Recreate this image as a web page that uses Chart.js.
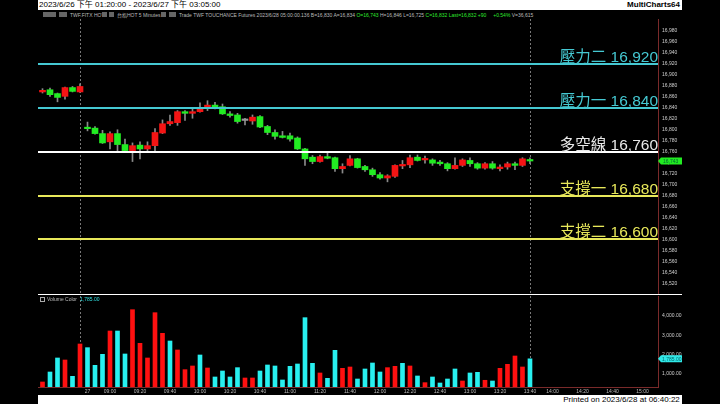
<!DOCTYPE html>
<html>
<head>
<meta charset="utf-8">
<script src="https://cdn.jsdelivr.net/npm/chart.js@4.4.1/dist/chart.umd.min.js"></script>
<style>
  body { margin: 0; width: 720px; height: 404px; background: #000; position: relative; overflow: hidden;
         font-family: "Liberation Sans", "Noto Sans CJK TC", sans-serif; }
  canvas { position: absolute; left: 0; }
  #priceCanvas { top: 19px; }
  #volCanvas { top: 295px; }
  .whitebar { position: absolute; left: 38px; width: 644px; background: #fff; color: #000; font-size: 8px; white-space: nowrap; }
  #topbar { top: 0; height: 10px; line-height: 10px; }
  #topbar .right { position: absolute; right: 2px; top: 0; font-weight: bold; }
  #topbar .left { position: absolute; left: 1px; top: 0; }
  #bottombar { top: 395px; height: 9px; line-height: 9px; text-align: right; }
  #sep { position: absolute; left: 38px; top: 294px; width: 644px; height: 1px; background: #fff; }
  .tb { position: absolute; top: 12px; font-size: 5px; line-height: 6px; color: #bbb; white-space: nowrap; }
  .icon { position: absolute; top: 12px; height: 5px; background: #666; }
  .g { color: #2ee82e; }
  .c { color: #30e0e0; }
</style>
</head>
<body>
<div id="topbar" class="whitebar"><span class="left">2023/6/26 下午 01:20:00 - 2023/6/27 下午 03:05:00</span><span class="right">MultiCharts64</span></div>

<div class="icon" style="left:43px;width:13px"></div>
<div class="icon" style="left:59px;width:8px"></div>
<div class="tb" style="left:70px">TWF.FITX HOT</div>
<div class="icon" style="left:102px;width:5px"></div>
<div class="icon" style="left:109px;width:5px"></div>
<div class="tb" style="left:117px">台指HOT 5 Minutes</div>
<div class="icon" style="left:161px;width:5px"></div>
<div class="icon" style="left:169px;width:7px"></div>
<div class="tb" style="left:179px">Trade TWF TOUCHANCE Futures 2023/6/28 05:00:00.136 B=16,830 A=16,834 <span class="g">O=16,743</span> H=16,846 L=16,725 <span class="g">C=16,832 Last=16,832 +90</span> &nbsp; &nbsp; <span class="g">+0.54%</span> V=36,615</div>

<canvas id="priceCanvas" width="720" height="276"></canvas>
<canvas id="volCanvas" width="720" height="100"></canvas>
<div id="sep"></div>

<div class="tb" style="left:40px;top:297px;width:3px;height:3px;border:1px solid #aaa;"></div>
<div class="tb" style="left:47px;top:296px">Volume Color</div>
<div class="tb c" style="left:80px;top:296px">1,785.00</div>

<div id="bottombar" class="whitebar">Printed on 2023/6/28 at 06:40:22&nbsp;</div>

<script>
// 5 minute bars: 6/26 13:20-13:45, then 6/27 08:45-13:40
const opens  = [16869,16873,16866,16861,16877,16869,16804,16803,16793,16778,16793,16773,16762,16772,16765,16771,16794,16811,16813,16833,16830,16833,16841,16845,16842,16829,16827,16817,16816,16824,16806,16795,16789,16789,16785,16765,16750,16742,16751,16749,16729,16735,16747,16733,16727,16718,16712,16715,16734,16736,16750,16745,16745,16741,16738,16729,16735,16744,16738,16730,16738,16729,16732,16738,16735,16745];
const highs  = [16875,16876,16867,16878,16879,16884,16814,16806,16799,16796,16800,16783,16776,16778,16778,16802,16818,16827,16835,16835,16838,16849,16853,16850,16847,16833,16830,16821,16827,16826,16808,16800,16797,16794,16787,16766,16753,16754,16758,16750,16738,16753,16748,16735,16730,16722,16718,16736,16744,16754,16754,16752,16747,16744,16740,16749,16747,16749,16740,16740,16742,16736,16741,16741,16749,16749];
const lows   = [16867,16861,16851,16856,16869,16868,16798,16792,16775,16765,16761,16761,16742,16747,16761,16762,16793,16808,16808,16817,16821,16832,16835,16838,16828,16823,16812,16809,16810,16804,16791,16783,16785,16779,16764,16735,16738,16741,16747,16724,16721,16734,16730,16724,16715,16710,16705,16713,16729,16731,16743,16739,16735,16735,16725,16728,16733,16733,16728,16728,16728,16725,16728,16727,16733,16738];
const closes = [16872,16864,16859,16877,16870,16879,16802,16793,16776,16793,16773,16762,16771,16765,16771,16795,16811,16815,16833,16830,16833,16838,16845,16842,16829,16826,16815,16817,16823,16805,16795,16788,16786,16783,16765,16747,16742,16751,16748,16729,16733,16747,16731,16727,16718,16712,16716,16735,16736,16749,16744,16747,16739,16738,16729,16735,16745,16738,16730,16738,16730,16732,16738,16735,16747,16743];
const volumes = [586,1103,1828,1724,880,2552,2362,1448,2017,3224,3224,2035,4327,2587,1828,4172,3104,2707,2242,1224,1414,1983,1310,845,1155,845,1328,793,793,1155,1466,1414,690,1397,1517,3914,1552,1052,776,2224,1293,1362,741,1259,1569,1103,1328,1397,1552,1414,897,552,845,534,741,1259,638,1052,1086,674,638,1293,1500,1931,1362,1785];
// 1 = red volume bar, 0 = cyan
const volumeUp = [1,0,0,1,0,1,0,0,0,1,0,0,1,1,1,1,1,0,1,1,1,0,1,0,0,0,0,1,1,0,0,0,0,0,0,0,0,1,0,0,1,1,0,0,0,0,1,1,0,1,0,1,0,0,0,0,1,0,0,1,0,1,1,1,1,0];

const levelNames  = ["壓力二", "壓力一", "多空線", "支撐一", "支撐二"];
const levelValues = [16920, 16840, 16760, 16680, 16600];
const levelColors = ["#45c8d2", "#45c8d2", "#ffffff", "#e8e85a", "#e8e85a"];

const priceTicks = [16520,16540,16560,16580,16600,16620,16640,16660,16680,16700,16720,16740,16760,16780,16800,16820,16840,16860,16880,16900,16920,16940,16960,16980];
const volumeTicks = [1000, 2000, 3000, 4000];
const timeTickIdx    = [6, 9, 13, 17, 21, 25, 29, 33, 37, 41, 45, 49, 53, 57, 61, 65, 68, 72, 76, 80];
const timeTickLabels = ["27","09:00","09:20","09:40","10:00","10:20","10:40","11:00","11:20","11:40","12:00","12:20","12:40","13:00","13:20","13:40","14:00","14:20","14:40","15:00"];
const sessionLines = [5, 65];

const RED = "#f41414", GREEN = "#22ec22", AXIS = "#7a2a2a";
const fmt = (v, d) => v.toLocaleString("en-US", { minimumFractionDigits: d, maximumFractionDigits: d });

// keep the plot area exactly where the layout puts it
function noPad(s) {
  s.paddingTop = 0; s.paddingBottom = 0; s.paddingLeft = 0; s.paddingRight = 0;
}

const dashPlugin = {
  id: "dash",
  beforeDatasetsDraw(chart) {
    const { ctx, chartArea, scales: { x } } = chart;
    ctx.save();
    ctx.strokeStyle = "#777";
    ctx.lineWidth = 1;
    ctx.setLineDash([2, 2]);
    sessionLines.forEach(i => {
      const px = Math.round(x.getPixelForValue(i)) + 0.5;
      ctx.beginPath();
      ctx.moveTo(px, chartArea.top);
      ctx.lineTo(px, chartArea.bottom);
      ctx.stroke();
    });
    ctx.restore();
  }
};

const levelPlugin = {
  id: "levels",
  afterDatasetsDraw(chart) {
    const { ctx, chartArea, scales: { y } } = chart;
    ctx.save();
    levelValues.forEach((v, k) => {
      const py = Math.round(y.getPixelForValue(v));
      ctx.strokeStyle = levelColors[k];
      ctx.lineWidth = 2;
      ctx.beginPath();
      ctx.moveTo(chartArea.left, py);
      ctx.lineTo(chartArea.right, py);
      ctx.stroke();
      ctx.fillStyle = levelColors[k] === "#ffffff" ? "#e8e8e8" : levelColors[k];
      ctx.font = '15.5px "Liberation Sans", "Noto Sans CJK TC"';
      ctx.textAlign = "right";
      ctx.textBaseline = "alphabetic";
      ctx.fillText(levelNames[k] + " " + fmt(v, 0), chartArea.right, py - 2.5);
    });
    ctx.restore();
  },
  afterDraw(chart) {
    const { ctx, chartArea, scales: { y } } = chart;
    const last = closes[closes.length - 1];
    const py = y.getPixelForValue(last);
    const x0 = chartArea.right;
    ctx.save();
    ctx.fillStyle = GREEN;
    ctx.beginPath();
    ctx.moveTo(x0, py);
    ctx.lineTo(x0 + 3, py - 3.5);
    ctx.lineTo(x0 + 24, py - 3.5);
    ctx.lineTo(x0 + 24, py + 3.5);
    ctx.lineTo(x0 + 3, py + 3.5);
    ctx.closePath();
    ctx.fill();
    ctx.fillStyle = "#063";
    ctx.font = '5px "Liberation Sans"';
    ctx.textBaseline = "middle";
    ctx.fillText(fmt(last, 0), x0 + 5, py + 0.5);
    ctx.restore();
  }
};

const volMarker = {
  id: "volMarker",
  afterDraw(chart) {
    const { ctx, chartArea, scales: { y } } = chart;
    const last = volumes[volumes.length - 1];
    const py = y.getPixelForValue(last);
    const x0 = chartArea.right;
    ctx.save();
    ctx.fillStyle = "#30e8e8";
    ctx.beginPath();
    ctx.moveTo(x0, py);
    ctx.lineTo(x0 + 3, py - 3.5);
    ctx.lineTo(x0 + 24, py - 3.5);
    ctx.lineTo(x0 + 24, py + 3.5);
    ctx.lineTo(x0 + 3, py + 3.5);
    ctx.closePath();
    ctx.fill();
    ctx.fillStyle = "#066";
    ctx.font = '5px "Liberation Sans"';
    ctx.textBaseline = "middle";
    ctx.fillText(fmt(last, 2), x0 + 4, py + 0.5);
    ctx.restore();
  }
};

const xRange = { type: "linear", min: -0.6, max: 82.07, offset: false };
const noGrid = { display: false, drawTicks: false };

const bodyColors = opens.map((o, i) => closes[i] > o ? RED : closes[i] < o ? GREEN : "#999");

new Chart(document.getElementById("priceCanvas"), {
  type: "bar",
  data: {
    datasets: [
      {
        label: "body",
        order: 0,
        data: opens.map((o, i) => ({ x: i, y: [Math.min(o, closes[i]), Math.max(o, closes[i])] })),
        backgroundColor: bodyColors,
        barThickness: 6,
        minBarLength: 1.5,
        grouped: false,
        clip: 0
      },
      {
        label: "wick",
        order: 1,
        data: highs.map((h, i) => ({ x: i, y: [lows[i], h] })),
        backgroundColor: "#8a8a8a",
        barThickness: 1,
        grouped: false,
        clip: 0
      }
    ]
  },
  options: {
    responsive: false,
    devicePixelRatio: 1,
    animation: false,
    events: [],
    layout: { autoPadding: false, padding: { left: 38, right: 0, top: 0, bottom: 0 } },
    plugins: { legend: { display: false }, tooltip: { enabled: false } },
    scales: {
      x: { ...xRange, display: false },
      y: {
        type: "linear",
        position: "right",
        min: 16498.5,
        max: 17002.1,
        afterBuildTicks: s => { s.ticks = priceTicks.map(v => ({ value: v })); },
        afterFit: s => { s.width = 62; noPad(s); },
        grid: noGrid,
        border: { display: true, color: AXIS, width: 1 },
        ticks: {
          color: "#cfcfcf",
          padding: 4,
          font: { family: "Liberation Sans", size: 5 },
          callback: v => fmt(v, 0)
        }
      }
    }
  },
  plugins: [dashPlugin, levelPlugin]
});

new Chart(document.getElementById("volCanvas"), {
  type: "bar",
  data: {
    datasets: [{
      label: "Volume",
      data: volumes.map((v, i) => ({ x: i, y: v })),
      backgroundColor: volumeUp.map(u => u ? "#ff1010" : "#28f0f0"),
      barThickness: 4,
      grouped: false,
      clip: 0
    }]
  },
  options: {
    responsive: false,
    devicePixelRatio: 1,
    animation: false,
    events: [],
    layout: { autoPadding: false, padding: { left: 38, right: 0, top: 1, bottom: 0 } },
    plugins: { legend: { display: false }, tooltip: { enabled: false } },
    scales: {
      x: {
        ...xRange,
        position: "bottom",
        afterBuildTicks: s => { s.ticks = timeTickIdx.map(v => ({ value: v })); },
        afterFit: s => { s.height = 8; noPad(s); },
        grid: noGrid,
        border: { display: true, color: AXIS, width: 1 },
        ticks: {
          autoSkip: false,
          maxRotation: 0,
          color: "#bbbbbb",
          padding: 2,
          font: { family: "Liberation Sans", size: 5 },
          callback: (v, idx) => timeTickLabels[idx]
        }
      },
      y: {
        type: "linear",
        position: "right",
        min: 327,
        max: 5035,
        afterBuildTicks: s => { s.ticks = volumeTicks.map(v => ({ value: v })); },
        afterFit: s => { s.width = 62; noPad(s); },
        grid: noGrid,
        border: { display: true, color: AXIS, width: 1 },
        ticks: {
          color: "#cfcfcf",
          padding: 4,
          font: { family: "Liberation Sans", size: 5 },
          callback: v => fmt(v, 2)
        }
      }
    }
  },
  plugins: [dashPlugin, volMarker]
});
</script>
</body>
</html>
